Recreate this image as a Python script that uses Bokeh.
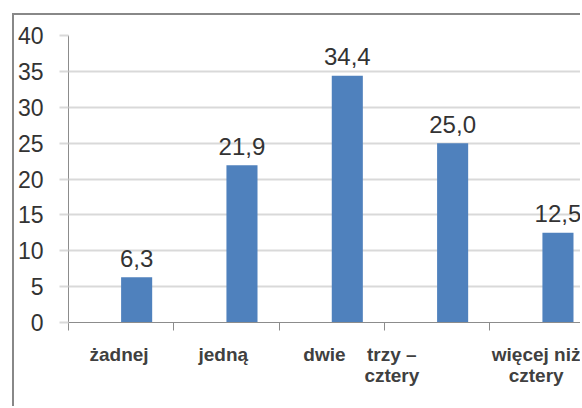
from bokeh.plotting import figure
from bokeh.models import ColumnDataSource, FixedTicker, Range1d
from bokeh.transform import dodge
from bokeh.core.properties import value
from bokeh.embed import file_html
from bokeh.resources import INLINE

# ---- data ----
categories = ["żadnej", "jedną", "dwie", "trzy – cztery", "więcej niż cztery"]
tick_labels = ["żadnej", "jedną", "dwie", "trzy –\ncztery", "więcej niż\ncztery"]
values = [6.3, 21.9, 34.4, 25.0, 12.5]
y_ticks = [0, 5, 10, 15, 20, 25, 30, 35, 40]

# ---- layout/style ----
xs = [i + 0.5 for i in range(len(categories))]
label_shift = [-0.02, -0.03, -0.07, -0.43, 0.0]
label_pos = [x + s for x, s in zip(xs, label_shift)]
bar_offset = 0.147
bar_width = 0.295

src = ColumnDataSource(dict(
    x=xs,
    v=values,
    lbl=[f"{v:.1f}".replace(".", ",") for v in values],
))

p = figure(width=568, height=393, output_backend="svg", toolbar_location=None,
           x_range=Range1d(0, 4.88), y_range=Range1d(0, 40),
           min_border_left=54, min_border_right=0, min_border_top=20,
           min_border_bottom=86, margin=(13, 0, 0, 12))
p.styles = {"border-left": "2px solid #888888", "border-top": "2px solid #888888"}
p.outline_line_color = None
p.background_fill_color = "white"
p.border_fill_color = "white"

p.vbar(x=dodge("x", bar_offset), top="v", width=bar_width, source=src,
       fill_color="#4f81bd", line_color=None)
p.text(x=dodge("x", bar_offset), y="v", text="lbl", source=src,
       text_align="center", text_baseline="alphabetic", y_offset=-19,
       text_font=value("Liberation Sans"), text_font_size="24px",
       text_color="#333333")

# grid
p.xgrid.grid_line_color = None
p.ygrid.ticker = FixedTicker(ticks=y_ticks)
p.ygrid.grid_line_color = "#d9d9d9"
p.ygrid.grid_line_width = 2

# y axis
ya = p.yaxis[0]
ya.ticker = FixedTicker(ticks=y_ticks)
ya.axis_line_color = "#8c8c8c"
ya.major_tick_out = 9
ya.major_tick_in = 0
ya.major_tick_line_color = "#d9d9d9"
ya.major_tick_line_width = 2
ya.minor_tick_line_color = None
ya.major_label_standoff = 16
ya.major_label_text_font = "Liberation Sans"
ya.major_label_text_font_size = "23px"
ya.major_label_text_color = "#333333"

# x axis
xa = p.xaxis[0]
xa.ticker = FixedTicker(ticks=label_pos, minor_ticks=[0, 1, 2, 3, 4, 5])
xa.major_label_overrides = {pos: lab for pos, lab in zip(label_pos, tick_labels)}
xa.axis_line_color = "#8c8c8c"
xa.major_tick_line_color = None
xa.major_tick_out = 0
xa.major_tick_in = 0
xa.minor_tick_line_color = "#8c8c8c"
xa.minor_tick_out = 8
xa.minor_tick_in = 0
xa.major_label_standoff = 13
xa.major_label_text_font = "Liberation Sans"
xa.major_label_text_font_style = "bold"
xa.major_label_text_font_size = "19px"
xa.major_label_text_color = "#404040"
xa.major_label_text_line_height = 1.0

open("out.html", "w").write(file_html(p, INLINE))
